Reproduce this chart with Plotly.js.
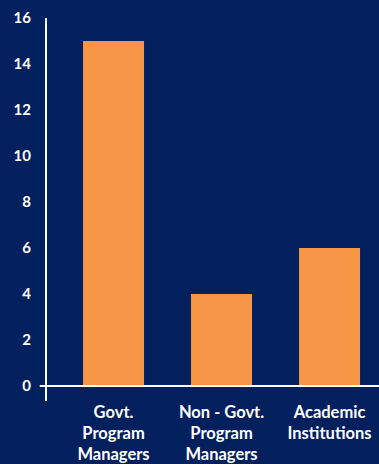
<!DOCTYPE html>
<html>
<head>
<meta charset="utf-8">
<script src="https://cdn.plot.ly/plotly-3.0.1.min.js"></script>
<style>html,body{margin:0;padding:0;background:#021f5e;}#chart{width:379px;height:464px;}</style>
</head>
<body>
<div id="chart"></div>
<script>
const categories = ["Govt.<br>Program<br>Managers", "Non - Govt.<br>Program<br>Managers", "Academic<br>Institutions"];
const values = [15, 4, 6];
const yTicks = [0, 2, 4, 6, 8, 10, 12, 14, 16];

const xIdx = categories.map((c, i) => i);
const font = {family: "Lato, 'Open Sans', sans-serif", size: 15, color: "#ffffff", weight: 700};
const xFont = {family: "Lato, 'Open Sans', sans-serif", size: 16.5, color: "#ffffff", weight: 700};

Plotly.newPlot("chart", [{
  type: "bar",
  x: xIdx,
  y: values,
  width: 0.565,
  marker: {color: "#f79646"},
  hoverinfo: "none"
}], {
  width: 379, height: 464,
  paper_bgcolor: "#021f5e",
  plot_bgcolor: "#021f5e",
  margin: {l: 47, r: 0, t: 18, b: 63},
  font: font,
  showlegend: false,
  xaxis: {
    range: [-0.616, 2.458],
    tickvals: xIdx,
    ticktext: categories,
    ticks: "",
    showline: false,
    showgrid: false,
    zeroline: false,
    tickfont: xFont,
    ticklabelstandoff: -1
  },
  yaxis: {
    range: [-0.65, 16],
    tickvals: yTicks,
    ticks: "",
    showline: true,
    linecolor: "#ffffff",
    linewidth: 2,
    showgrid: false,
    zeroline: false,
    tickfont: font,
    ticklabelstandoff: 11
  },
  shapes: [{
    type: "line", xref: "paper", yref: "y",
    x0: -0.022, x1: 1, y0: 0, y1: 0,
    line: {color: "#ffffff", width: 2}
  }]
}, {displayModeBar: false, staticPlot: true});
</script>
</body>
</html>
